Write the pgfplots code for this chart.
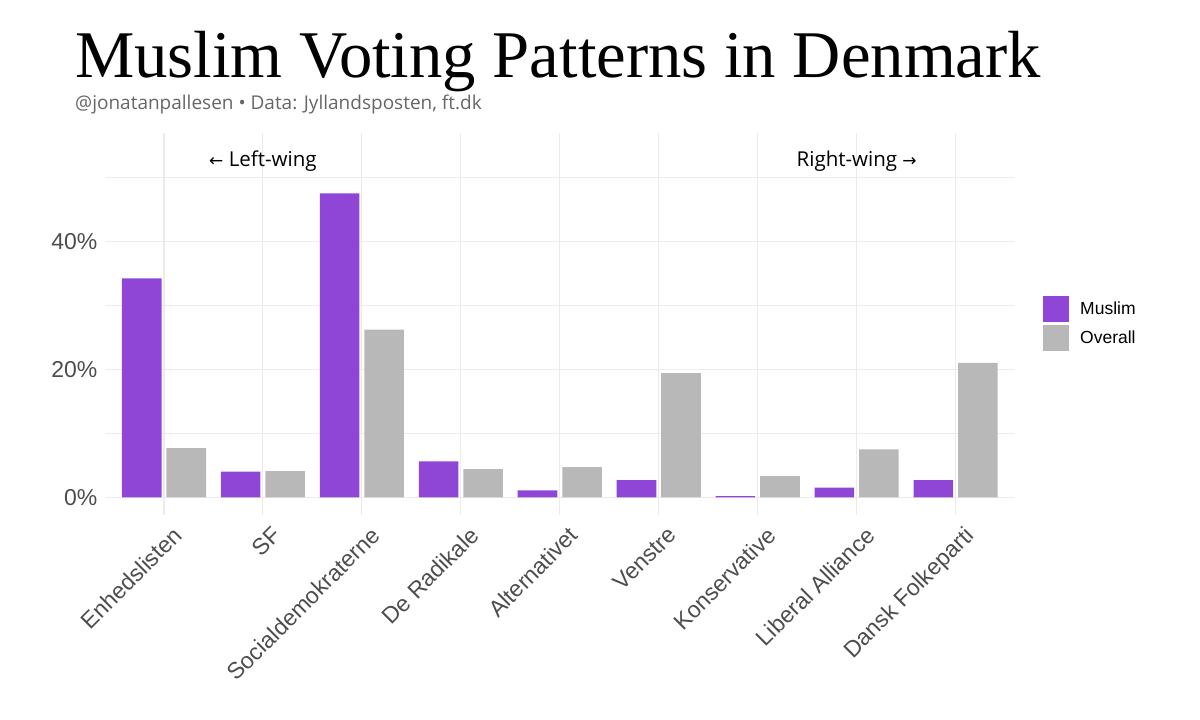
\documentclass[border=0pt]{standalone}
\usepackage{fontspec}
\setmainfont{Liberation Sans}
\newfontfamily\titlefont{Liberation Serif}
\newfontfamily\opensans{Open Sans}
\newfontfamily\dejavu{DejaVu Sans}
\usepackage{pgfplots}
\usepackage{pgfplotstable}
\pgfplotsset{compat=1.18}

\definecolor{muslim}{RGB}{143,70,214}
\definecolor{overall}{RGB}{184,184,184}
\definecolor{gridc}{RGB}{235,235,235}
\definecolor{ticktext}{RGB}{77,77,77}
\definecolor{subtext}{RGB}{102,102,102}

% share of votes in percent
\pgfplotstableread{
x muslim overall
0 34.2 7.7
1 4.0  4.1
2 47.5 26.2
3 5.6  4.4
4 1.1  4.7
5 2.7  19.4
6 0.2  3.3
7 1.5  7.5
8 2.7  21.0
}\votes

\begin{document}
\begin{tikzpicture}
\path[use as bounding box] (0,0) rectangle (1200pt,-720pt);

\node[anchor=base west, inner sep=0pt, font=\titlefont\fontsize{66.7}{70}\selectfont]
  at (75pt,-77pt) {Muslim Voting Patterns in Denmark};
\node[anchor=base west, inner sep=0pt, text=subtext, font=\opensans\fontsize{19}{22}\selectfont]
  at (75pt,-109pt) {@jonatanpallesen • Data: Jyllandsposten, ft.dk};

\begin{axis}[
  scale only axis,
  width=910.4pt, height=382.1pt,
  at={(104.6pt,-514.6pt)}, anchor=south west,
  xmin=-0.6, xmax=8.6,
  ymin=-2.7, ymax=57.0,
  axis line style={draw=none},
  major tick length=0pt, minor tick length=0pt,
  xtick={0,...,8},
  xticklabels={Enhedslisten, SF, Socialdemokraterne, De Radikale, Alternativet,
    Venstre, Konservative, Liberal Alliance, Dansk Folkeparti},
  ytick={0,20,40},
  yticklabels={0\%,20\%,40\%},
  minor ytick={10,30,50},
  xmajorgrids, ymajorgrids, yminorgrids,
  major grid style={draw=gridc, line width=1.1pt},
  minor grid style={draw=gridc, line width=0.55pt},
  ticklabel style={text=ticktext, font=\fontsize{23}{25}\selectfont},
  xticklabel style={rotate=45, anchor=north east, inner sep=2pt, yshift=-11pt},
  yticklabel style={inner sep=7pt},
  legend style={at={(1,0.5)}, anchor=west, xshift=28pt, draw=none, fill=none,
    inner sep=0pt, row sep=3pt, column sep=11pt,
    font=\fontsize{17.5}{20}\selectfont,
    nodes={inner sep=0pt, anchor=west}},
  legend cell align=left,
  legend image code/.code={\fill[#1] (0pt,-13pt) rectangle (26pt,13pt);},
  clip=false,
]
\addplot[ybar, bar width=0.4, bar shift=-0.225, fill=muslim, draw=none]
  table[x=x, y=muslim] {\votes};
\addlegendentry{Muslim}
\addplot[ybar, bar width=0.4, bar shift=0.225, fill=overall, draw=none]
  table[x=x, y=overall] {\votes};
\addlegendentry{Overall}

\node[font=\opensans\fontsize{20.5}{22}\selectfont] at (axis cs:1,52.5)
  {{\dejavu\fontsize{17}{20}\selectfont ←} Left-wing};
\node[font=\opensans\fontsize{20.5}{22}\selectfont] at (axis cs:7,52.5)
  {Right-wing {\dejavu\fontsize{17}{20}\selectfont →}};
\end{axis}
\end{tikzpicture}
\end{document}
